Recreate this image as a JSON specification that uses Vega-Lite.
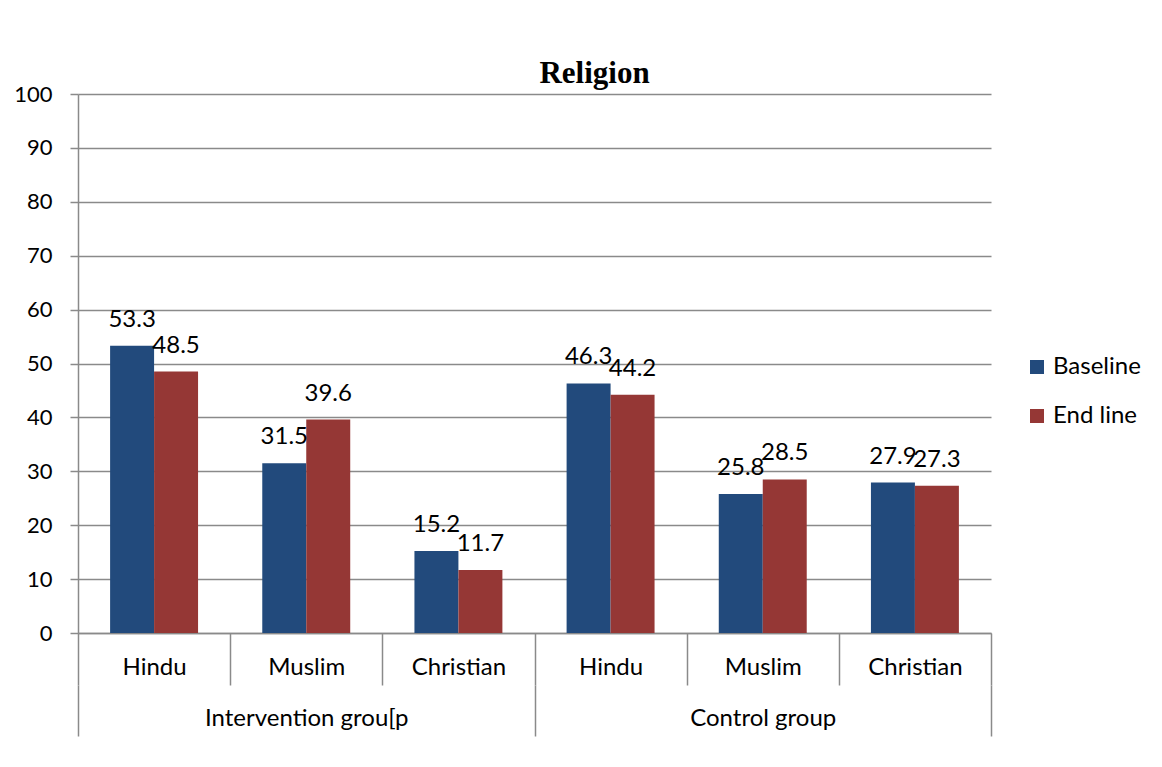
{
  "$schema": "https://vega.github.io/schema/vega-lite/v6.json",
  "width": 913,
  "height": 539,
  "autosize": {"type": "none"},
  "padding": {"left": 78, "top": 94, "right": 171, "bottom": 134},
  "background": "white",
  "title": {
    "text": "Religion",
    "font": "Liberation Serif",
    "fontWeight": "bold",
    "fontSize": 31,
    "color": "black",
    "anchor": "middle",
    "dx": 60,
    "baseline": "alphabetic",
    "offset": -31
  },
  "config": {
    "view": {"stroke": null},
    "font": "Lato"
  },
  "layer": [
    {
      "data": {
        "values": [
          {"cat": "Intervention grou[p|Hindu", "series": "Baseline", "value": 53.3},
          {"cat": "Intervention grou[p|Hindu", "series": "End line", "value": 48.5},
          {"cat": "Intervention grou[p|Muslim", "series": "Baseline", "value": 31.5},
          {"cat": "Intervention grou[p|Muslim", "series": "End line", "value": 39.6},
          {"cat": "Intervention grou[p|Christian", "series": "Baseline", "value": 15.2},
          {"cat": "Intervention grou[p|Christian", "series": "End line", "value": 11.7},
          {"cat": "Control group|Hindu", "series": "Baseline", "value": 46.3},
          {"cat": "Control group|Hindu", "series": "End line", "value": 44.2},
          {"cat": "Control group|Muslim", "series": "Baseline", "value": 25.8},
          {"cat": "Control group|Muslim", "series": "End line", "value": 28.5},
          {"cat": "Control group|Christian", "series": "Baseline", "value": 27.9},
          {"cat": "Control group|Christian", "series": "End line", "value": 27.3}
        ]
      },
      "encoding": {
        "x": {
          "field": "cat",
          "type": "nominal",
          "scale": {
            "domain": ["Intervention grou[p|Hindu", "Intervention grou[p|Muslim", "Intervention grou[p|Christian", "Control group|Hindu", "Control group|Muslim", "Control group|Christian"],
            "paddingInner": 0,
            "paddingOuter": 0
          },
          "axis": {
            "title": null,
            "orient": "bottom",
            "labelExpr": "split(datum.label, '|')[1]",
            "labelAngle": 0,
            "labelFont": "Lato",
            "labelFontSize": 24,
            "labelColor": "black",
            "labelBaseline": "middle",
            "labelPadding": -18,
            "labelOverlap": false,
            "labelLimit": 0,
            "tickBand": "extent",
            "tickSize": 52,
            "tickColor": "#8a8a8a",
            "tickWidth": 1.5,
            "domainColor": "#8a8a8a",
            "domainWidth": 1.5,
            "grid": false
          }
        },
        "xOffset": {
          "field": "series",
          "type": "nominal",
          "scale": {"paddingInner": 0, "paddingOuter": 0.73}
        },
        "y": {
          "field": "value",
          "type": "quantitative",
          "scale": {"domain": [0, 100], "nice": false},
          "axis": {
            "title": null,
            "values": [0, 10, 20, 30, 40, 50, 60, 70, 80, 90, 100],
            "labelFont": "Lato",
            "labelFontSize": 22,
            "labelColor": "black",
            "labelPadding": 18,
            "tickSize": 8,
            "tickColor": "#8a8a8a",
            "tickWidth": 1.5,
            "domainColor": "#8a8a8a",
            "domainWidth": 1.5,
            "gridColor": "#8a8a8a",
            "gridWidth": 1.5
          }
        }
      },
      "layer": [
        {
          "mark": {"type": "bar"},
          "encoding": {
            "color": {
              "field": "series",
              "type": "nominal",
              "scale": {"domain": ["Baseline", "End line"], "range": ["#224a7c", "#953735"]},
              "legend": {
                "title": null,
                "orient": "none",
                "legendX": 947,
                "legendY": 261,
                "symbolType": "square",
                "symbolSize": 196,
                "symbolStrokeWidth": 0,
                "labelFont": "Lato",
                "labelFontSize": 24,
                "labelColor": "black",
                "labelOffset": 4,
                "rowPadding": 25,
                "padding": 0
              }
            }
          }
        },
        {
          "mark": {"type": "text", "baseline": "alphabetic", "dy": -19, "fontSize": 24, "font": "Lato", "color": "black"},
          "encoding": {
            "text": {"field": "value", "type": "quantitative", "format": ".1f"}
          }
        }
      ]
    },
    {
      "data": {
        "values": [
          {"group": "Intervention grou[p"},
          {"group": "Control group"}
        ]
      },
      "mark": {"type": "tick", "opacity": 0},
      "encoding": {
        "x": {
          "field": "group",
          "type": "nominal",
          "scale": {"domain": ["Intervention grou[p", "Control group"], "paddingInner": 0, "paddingOuter": 0},
          "axis": {
            "title": null,
            "orient": "bottom",
            "offset": 52,
            "domain": false,
            "labelAngle": 0,
            "labelFont": "Lato",
            "labelFontSize": 24,
            "labelColor": "black",
            "labelBaseline": "middle",
            "labelPadding": -18,
            "labelOverlap": false,
            "labelLimit": 0,
            "tickBand": "extent",
            "tickSize": 51,
            "tickColor": "#8a8a8a",
            "tickWidth": 1.5,
            "grid": false
          }
        }
      }
    }
  ],
  "resolve": {"scale": {"x": "independent"}, "axis": {"x": "independent"}}
}
